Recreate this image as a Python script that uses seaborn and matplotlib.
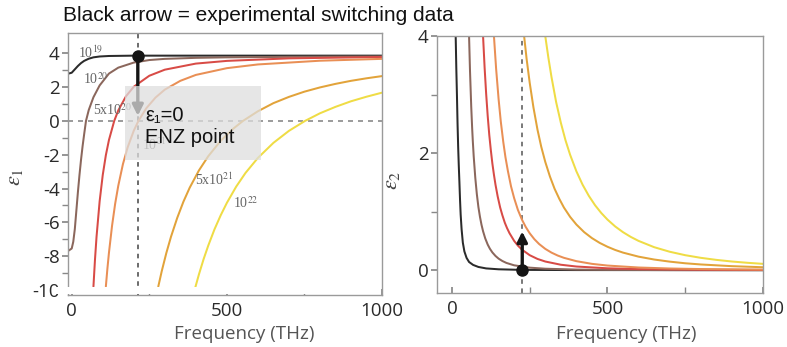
import numpy as np
import pandas as pd
import matplotlib
matplotlib.use("Agg")
import matplotlib.pyplot as plt
from matplotlib.patches import Rectangle
import seaborn as sns

densities = ["1e19", "1e20", "5e20", "1e21", "5e21", "1e22"]
colours = ["#2b2b2b", "#8b675c", "#d84b46", "#e98f55", "#e2a33a", "#efdc45"]

# eps1 (left panel)
f1_1e19 = [-12, 0, 10, 20, 30, 40, 55, 70, 90, 120, 200, 400, 1000]
e1_1e19 = [2.79, 2.85, 3.05, 3.25, 3.42, 3.55, 3.68, 3.76, 3.81, 3.84, 3.86, 3.86, 3.86]
f1_1e20 = [-12, 0, 5, 10, 15, 20, 25, 30, 35, 40, 46, 55, 70, 90, 120, 150, 200, 250, 300, 400, 500, 700, 1000]
e1_1e20 = [-7.7, -7.55, -7.15, -6.4, -5.3, -4.2, -3.2, -2.3, -1.5, -0.8, 0.0, 0.65, 1.4, 2.1, 2.8, 3.15,
           3.45, 3.6, 3.67, 3.73, 3.76, 3.79, 3.81]
f1_5e20 = [70, 75, 80, 90, 100, 110, 120, 137, 150, 175, 200, 250, 300, 400, 500, 700, 1000]
e1_5e20 = [-9.8, -8.2, -6.85, -4.75, -3.2, -2.03, -1.13, 0.0, 0.62, 1.46, 2.02, 2.67, 3.03, 3.39, 3.55, 3.70, 3.78]
f1_1e21 = [110, 115, 120, 130, 140, 150, 165, 180, 200, 215, 240, 270, 300, 350, 400, 500, 600, 800, 1000]
e1_1e21 = [-9.8, -8.74, -7.8, -6.2, -4.9, -3.84, -2.56, -1.58, -0.58, 0.0, 0.74, 1.38, 1.85, 2.37, 2.72,
           3.12, 3.34, 3.56, 3.67]
f1_5e21 = [279, 290, 305, 320, 340, 360, 380, 410, 440, 480, 520, 552, 600, 650, 700, 750, 800, 850, 900, 950, 1000]
e1_5e21 = [-9.8, -8.9, -7.81, -6.85, -5.74, -4.78, -3.96, -2.93, -2.09, -1.18, -0.47, 0.0, 0.57, 1.05, 1.42,
           1.73, 1.98, 2.19, 2.37, 2.52, 2.65]
f1_1e22 = [398, 410, 425, 440, 460, 480, 500, 530, 560, 600, 650, 700, 752, 800, 850, 900, 950, 1000]
e1_1e22 = [-9.87, -9.08, -8.18, -7.38, -6.42, -5.59, -4.85, -3.89, -3.08, -2.19, -1.30, -0.59, 0.0, 0.45,
           0.83, 1.16, 1.43, 1.67]

# eps2 (right panel)
f2_1e19 = [8, 10, 12, 14, 16, 18, 20, 22, 24, 26, 28, 31, 35, 40, 47, 55, 68, 85, 110, 150, 225, 400, 1000]
e2_1e19 = [6.5, 5.0, 4.0, 3.45, 3.0, 2.5, 2.1, 1.78, 1.5, 1.2, 0.95, 0.7, 0.47, 0.32, 0.21, 0.14, 0.09, 0.055,
           0.03, 0.015, 0.005, 0.002, 0.0]
f2_1e20 = [50, 55, 58, 62, 65, 67, 70, 75, 80, 85, 90, 95, 100, 107, 115, 122, 130, 140, 150, 162, 175, 200,
           250, 300, 400, 500, 700, 1000]
e2_1e20 = [5.32, 4.0, 3.41, 2.79, 2.42, 2.21, 1.94, 1.58, 1.30, 1.08, 0.913, 0.776, 0.666, 0.543, 0.437, 0.366,
           0.303, 0.243, 0.197, 0.157, 0.124, 0.083, 0.043, 0.025, 0.0104, 0.0053, 0.0019, 0.0007]
f2_5e20 = [92, 100, 105, 110, 115, 120, 125, 130, 135, 140, 147, 155, 162, 170, 177, 185, 200, 212, 225, 250,
           275, 300, 350, 400, 500, 600, 800, 1000]
e2_5e20 = [5.14, 4.0, 3.46, 3.01, 2.63, 2.31, 2.05, 1.82, 1.63, 1.46, 1.26, 1.07, 0.94, 0.81, 0.72, 0.632, 0.5,
           0.42, 0.351, 0.256, 0.192, 0.148, 0.093, 0.0625, 0.032, 0.0185, 0.0078, 0.004]
f2_1e21 = [125, 135, 142, 150, 157, 165, 172, 180, 190, 200, 212, 225, 237, 250, 265, 280, 300, 320, 340, 360,
           400, 450, 500, 600, 700, 800, 1000]
e2_1e21 = [5.04, 4.0, 3.44, 2.92, 2.54, 2.19, 1.93, 1.69, 1.43, 1.23, 1.03, 0.864, 0.74, 0.63, 0.529, 0.448,
           0.364, 0.300, 0.25, 0.211, 0.154, 0.108, 0.079, 0.0456, 0.0287, 0.0192, 0.0098]
f2_5e21 = [215, 232, 240, 250, 262, 275, 287, 300, 315, 330, 345, 360, 380, 400, 425, 450, 475, 500, 525, 550,
           600, 650, 700, 750, 800, 900, 1000]
e2_5e21 = [5.03, 4.0, 3.61, 3.20, 2.78, 2.40, 2.11, 1.85, 1.60, 1.39, 1.22, 1.07, 0.91, 0.78, 0.65, 0.548, 0.466,
           0.40, 0.345, 0.30, 0.231, 0.182, 0.146, 0.118, 0.0976, 0.0685, 0.05]
f2_1e22 = [280, 290, 300, 310, 320, 335, 350, 365, 380, 400, 420, 440, 460, 480, 500, 525, 550, 575, 600, 650,
           700, 750, 800, 850, 900, 950, 1000]
e2_1e22 = [4.92, 4.43, 4.0, 3.63, 3.30, 2.87, 2.52, 2.22, 1.97, 1.69, 1.46, 1.27, 1.11, 0.977, 0.864, 0.746,
           0.649, 0.568, 0.5, 0.393, 0.315, 0.256, 0.211, 0.176, 0.148, 0.126, 0.108]

# labels on the left panel: text, freq, eps1
curve_labels = [("10$^{19}$", 20, 3.75), ("10$^{20}$", 36, 2.2), ("5x10$^{20}$", 70, 0.33),
                ("10$^{21}$", 225, -1.74), ("5x10$^{21}$", 398, -3.81), ("10$^{22}$", 521, -5.13)]

# experimental switching marks
switch_left = 213
switch_right = 226
arrow1_from, arrow1_to = 3.85, 0.3
arrow2_from, arrow2_to = 0.0, 0.66


def long_df(freqs, vals):
    parts = [pd.DataFrame({"freq": f, "eps": v, "N": n}) for f, v, n in zip(freqs, vals, densities)]
    return pd.concat(parts, ignore_index=True)


df1 = long_df([f1_1e19, f1_1e20, f1_5e20, f1_1e21, f1_5e21, f1_1e22],
              [e1_1e19, e1_1e20, e1_5e20, e1_1e21, e1_5e21, e1_1e22])
df2 = long_df([f2_1e19, f2_1e20, f2_5e20, f2_1e21, f2_5e21, f2_1e22],
              [e2_1e19, e2_1e20, e2_5e20, e2_1e21, e2_5e21, e2_1e22])

sns.set_theme(style="white")
plt.rcParams["font.family"] = ["Open Sans", "DejaVu Sans"]
plt.rcParams["axes.unicode_minus"] = False

fig = plt.figure(figsize=(7.87, 3.47), dpi=100)
ax1 = fig.add_axes([0.0864, 0.1499, 0.399, 0.755])
ax2 = fig.add_axes([0.5553, 0.1556, 0.4142, 0.7406])

for ax, df in ((ax1, df1), (ax2, df2)):
    sns.lineplot(data=df, x="freq", y="eps", hue="N", hue_order=densities, palette=colours,
                 estimator=None, sort=False, lw=1.45, legend=False, ax=ax, zorder=2)
    for s in ax.spines.values():
        s.set_color("#9a9a9a")
        s.set_linewidth(1.0)
    ax.set_xticks([0, 500, 1000])
    ax.set_xticks([250, 750], minor=True)
    ax.tick_params(axis="x", which="both", direction="in", length=4, color="#888888",
                   labelsize=13.5, labelcolor="#2a2a2a", pad=5, bottom=True)
    ax.tick_params(axis="y", which="both", direction="out", length=4, color="#888888",
                   labelsize=13.5, labelcolor="#2a2a2a", pad=2, left=True)
    ax.set_xlabel("Frequency (THz)", fontsize=13.5, color="#555555")

ax1.set_xlim(-12, 1000)
ax1.set_ylim(-10.3, 5.2)
ax1.set_yticks(np.arange(-10, 5, 2))
ax1.set_yticks(np.arange(-9, 5, 2), minor=True)
ax1.set_ylabel(r"$\varepsilon_1$", fontsize=16, math_fontfamily="stix", color="#444444")
ax1.yaxis.set_label_coords(-0.137, 0.45)
ax1.xaxis.set_label_coords(0.56, -0.115)

ax2.set_xlim(-48, 1000)
ax2.set_ylim(-0.39, 4)
ax2.set_yticks([0, 2, 4])
ax2.set_yticks([1, 3], minor=True)
ax2.set_ylabel(r"$\varepsilon_2$", fontsize=16, math_fontfamily="stix", color="#444444")
ax2.yaxis.set_label_coords(-0.107, 0.44)
ax2.xaxis.set_label_coords(0.58, -0.125)

# dashed guides
ax1.axhline(0, color="#8a8a8a", lw=1.2, ls=(0, (3, 3)), zorder=1)
ax1.axvline(switch_left, color="#444444", lw=1.1, ls=(0, (3, 3)), zorder=1)
ax2.axvline(switch_right, color="#555555", lw=1.1, ls=(0, (3, 3)), zorder=1)

for txt, fx, fy in curve_labels:
    ax1.text(fx, fy, txt, fontsize=10, color="#666666", family=["Liberation Serif", "DejaVu Serif"],
             math_fontfamily="stix", va="baseline", zorder=3)

# arrows
ax1.annotate("", xy=(switch_left, arrow1_to), xytext=(switch_left, arrow1_from),
             arrowprops=dict(arrowstyle="-|>", lw=2.4, color="#151515", mutation_scale=16,
                             shrinkA=0, shrinkB=0), zorder=3)
ax1.plot([switch_left], [arrow1_from], "o", ms=8, color="#151515", zorder=5)
ax2.annotate("", xy=(switch_right, arrow2_to), xytext=(switch_right, arrow2_from),
             arrowprops=dict(arrowstyle="-|>", lw=2.4, color="#151515", mutation_scale=15,
                             shrinkA=0, shrinkB=0), zorder=3)
ax2.plot([switch_right], [arrow2_from], "o", ms=8, color="#151515", zorder=5)

# grey label box
ax1.add_patch(Rectangle((172, -2.33), 438, 4.37, facecolor="#dedede", edgecolor="none",
                        alpha=0.75, zorder=4))
ax1.text(236, -0.01, "ε₁=0", fontsize=14.5, color="#111111", family=["Liberation Sans", "DejaVu Sans"],
         va="baseline", zorder=6)
ax1.text(236, -1.33, "ENZ point", fontsize=14.5, color="#111111", family=["Liberation Sans", "DejaVu Sans"],
         va="baseline", zorder=6)

# white strip along the bottom of the left panel
fig.add_artist(Rectangle((52 / 787, 53.5 / 347), 329 / 787, 6.5 / 347, transform=fig.transFigure,
                         facecolor="white", edgecolor="none", zorder=10))

fig.text(63 / 787, 1 - 6 / 347, "Black arrow = experimental switching data", fontsize=15,
         family=["Liberation Sans", "DejaVu Sans"], color="#111111", va="top")

fig.savefig("out.png", dpi=100)
